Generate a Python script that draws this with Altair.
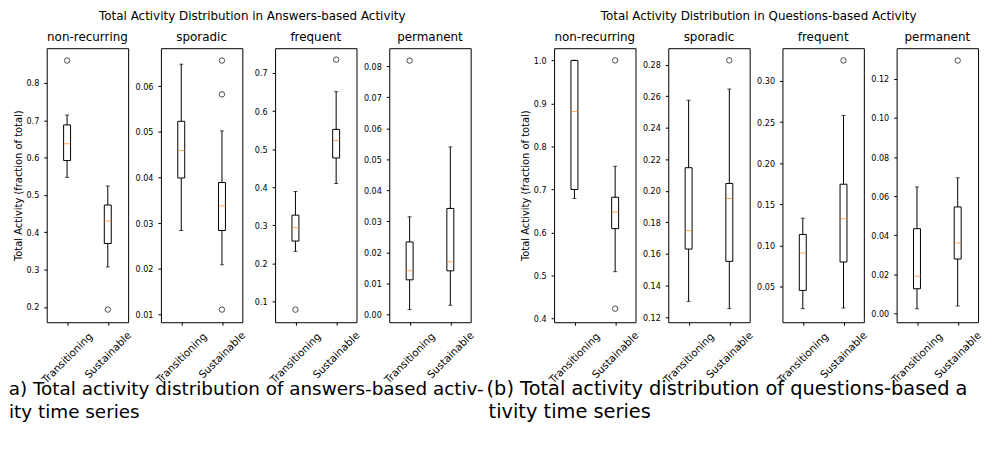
import altair as alt
import pandas as pd

CATS = ["Transitioning", "Sustainable"]
PANEL_TITLES = ["non-recurring", "sporadic", "frequent", "permanent"]
Y_TITLE = "Total Activity (fraction of total)"

GROUP_TITLE_A = "Total Activity Distribution in Answers-based Activity"
GROUP_TITLE_B = "Total Activity Distribution in Questions-based Activity"
CAPTION_A = ["(a) Total activity distribution of answers-based activ-", "ity time series"]
CAPTION_B = ["(b) Total activity distribution of questions-based a", "tivity time series"]

# Answers-based activity, per panel: [Transitioning, Sustainable]
A_LO = [[0.547, 0.307], [0.0284, 0.0209], [0.232, 0.410], [0.0016, 0.0030]]
A_Q1 = [[0.592, 0.370], [0.0399, 0.0284], [0.259, 0.477], [0.0112, 0.0141]]
A_MED = [[0.637, 0.430], [0.0459, 0.0338], [0.294, 0.523], [0.0141, 0.0170]]
A_Q3 = [[0.6875, 0.473], [0.0523, 0.0389], [0.327, 0.552], [0.0234, 0.0342]]
A_HI = [[0.714, 0.524], [0.0648, 0.0502], [0.389, 0.651], [0.0315, 0.0540]]
A_OUT = [[[0.860], [0.193]], [[], [0.0656, 0.0582, 0.0111]], [[0.079], [0.735]], [[0.0818], []]]
A_DOMAIN = [[0.159, 0.893], [0.00833, 0.0683], [0.046, 0.765], [-0.00246, 0.0858]]
A_TICKS = [
    [0.2, 0.3, 0.4, 0.5, 0.6, 0.7, 0.8],
    [0.01, 0.02, 0.03, 0.04, 0.05, 0.06],
    [0.1, 0.2, 0.3, 0.4, 0.5, 0.6, 0.7],
    [0.00, 0.01, 0.02, 0.03, 0.04, 0.05, 0.06, 0.07, 0.08],
]
A_FMT = [".1f", ".2f", ".1f", ".2f"]

# Questions-based activity, per panel: [Transitioning, Sustainable]
B_LO = [[0.679, 0.509], [0.1299, 0.1253], [0.0231, 0.0238], [0.0025, 0.0039]]
B_Q1 = [[0.700, 0.609], [0.1631, 0.1553], [0.0452, 0.0798], [0.0127, 0.0279]]
B_MED = [[0.881, 0.648], [0.1748, 0.1952], [0.0907, 0.1324], [0.0191, 0.0361]]
B_Q3 = [[1.000, 0.682], [0.2147, 0.2047], [0.1133, 0.1744], [0.0434, 0.0545]]
B_HI = [[1.000, 0.754], [0.2575, 0.2646], [0.1331, 0.2581], [0.0647, 0.0694]]
B_OUT = [[[], [1.0, 0.423]], [[], [0.2828]], [[], [0.325]], [[], [0.1293]]]
B_DOMAIN = [[0.3915, 1.0284], [0.1167, 0.2905], [0.0065, 0.3399], [-0.0044, 0.1356]]
B_TICKS = [
    [0.4, 0.5, 0.6, 0.7, 0.8, 0.9, 1.0],
    [0.12, 0.14, 0.16, 0.18, 0.20, 0.22, 0.24, 0.26, 0.28],
    [0.05, 0.10, 0.15, 0.20, 0.25, 0.30],
    [0.00, 0.02, 0.04, 0.06, 0.08, 0.10, 0.12],
]
B_FMT = [".1f", ".2f", ".2f", ".2f"]

PW, PH = 82, 276
FONT = "DejaVu Sans"
YLAB_FONT = "DejaVu Sans Condensed, DejaVu Sans"
CAP_FONT = "DejaVu Sans"
CAP_SIZE_A = 18.5
CAP_SIZE_B = 19.5
ONE = pd.DataFrame({"k": [0]})


def text_layer(txt, x, y, size, font=FONT, align="center", baseline="middle"):
    return alt.Chart(ONE).mark_text(
        text=txt, font=font, fontSize=size, align=align, baseline=baseline, color="black"
    ).encode(x=alt.value(x), y=alt.value(y))


def panel(i, lo, q1, med, q3, hi, outs, domain, ticks, fmt, first, extra):
    stats = pd.DataFrame({"cat": CATS, "lo": lo[i], "q1": q1[i], "med": med[i], "q3": q3[i], "hi": hi[i]})
    orows = [{"cat": c, "v": v} for c, vals in zip(CATS, outs[i]) for v in vals]
    xenc = alt.X(
        "cat:N",
        scale=alt.Scale(type="point", domain=CATS, padding=0.5),
        axis=alt.Axis(
            title=None, labelAngle=-45, labelAlign="center", labelBaseline="middle",
            labelPadding={"condition": {"test": "datum.value === 'Transitioning'", "value": 33}, "value": 30},
            labelFontSize=10.5, labelFont=FONT, tickSize=3, domain=False,
        ),
    )
    yscale = alt.Scale(domain=domain, nice=False, zero=False)
    yaxis = alt.Axis(
        values=ticks, format=fmt, title=Y_TITLE if first else None, titleFontWeight="normal",
        titleFont=FONT, titleFontSize=10, titlePadding=3, titleColor="black",
        labelFont=YLAB_FONT, labelFontSize=9, labelPadding=5, tickSize=3, domain=False, grid=False,
        labelFlush=False, labelOverlap=False,
    )

    def Y(f):
        return alt.Y(f, scale=yscale, axis=yaxis)

    base = alt.Chart(stats)
    layers = [
        base.mark_rule(color="black", strokeWidth=1).encode(x=xenc, y=Y("lo:Q"), y2="hi:Q"),
        base.mark_bar(size=7, fill="white", stroke="black", strokeWidth=1).encode(x=xenc, y=Y("q1:Q"), y2="q3:Q"),
        base.mark_tick(color="black", size=4, thickness=1).encode(x=xenc, y=Y("lo:Q")),
        base.mark_tick(color="black", size=4, thickness=1).encode(x=xenc, y=Y("hi:Q")),
        base.mark_tick(color="#ff7f0e", size=7, thickness=1).encode(x=xenc, y=Y("med:Q")),
    ]
    if orows:
        layers.append(
            alt.Chart(pd.DataFrame(orows)).mark_point(shape="circle", filled=False, size=30, color="black", strokeWidth=1)
            .encode(x=xenc, y=Y("v:Q"))
        )
    layers.append(text_layer(PANEL_TITLES[i], PW / 2, -7.5, 12, baseline="alphabetic"))
    layers.extend(extra)
    return alt.layer(*layers).properties(width=PW, height=PH)


extra_a = [
    text_layer(GROUP_TITLE_A, 207, -32, 12),
    text_layer(CAPTION_A[0], 440, 349, CAP_SIZE_A, font=CAP_FONT, align="right", baseline="alphabetic"),
    text_layer(CAPTION_A[1], -38, 372, CAP_SIZE_A, font=CAP_FONT, align="left", baseline="alphabetic"),
]
extra_b = [
    text_layer(GROUP_TITLE_B, 206, -32, 12),
    text_layer(CAPTION_B[0], -68, 349, CAP_SIZE_B, font=CAP_FONT, align="left", baseline="alphabetic"),
    text_layer(CAPTION_B[1], -66, 372, CAP_SIZE_B, font=CAP_FONT, align="left", baseline="alphabetic"),
]

panels_a = [panel(i, A_LO, A_Q1, A_MED, A_Q3, A_HI, A_OUT, A_DOMAIN[i], A_TICKS[i], A_FMT[i], i == 0,
                  extra_a if i == 0 else []) for i in range(4)]
panels_b = [panel(i, B_LO, B_Q1, B_MED, B_Q3, B_HI, B_OUT, B_DOMAIN[i], B_TICKS[i], B_FMT[i], i == 0,
                  extra_b if i == 0 else []) for i in range(4)]

spacer = alt.Chart(ONE).mark_point(opacity=0).encode(
    x=alt.value(0), y=alt.value(0)
).properties(width=18, height=PH, view=alt.ViewBackground(stroke="transparent"))

chart = alt.hconcat(*panels_a, spacer, *panels_b, spacing=33, bounds="flush").properties(
    padding={"left": -8, "top": 0, "right": 0, "bottom": 0}
).configure(background="white").configure_view(stroke="black", strokeWidth=1).configure_axis(
    labelColor="black", tickColor="black"
)

chart.save("out.html", embed_options={"renderer": "svg", "actions": False})
